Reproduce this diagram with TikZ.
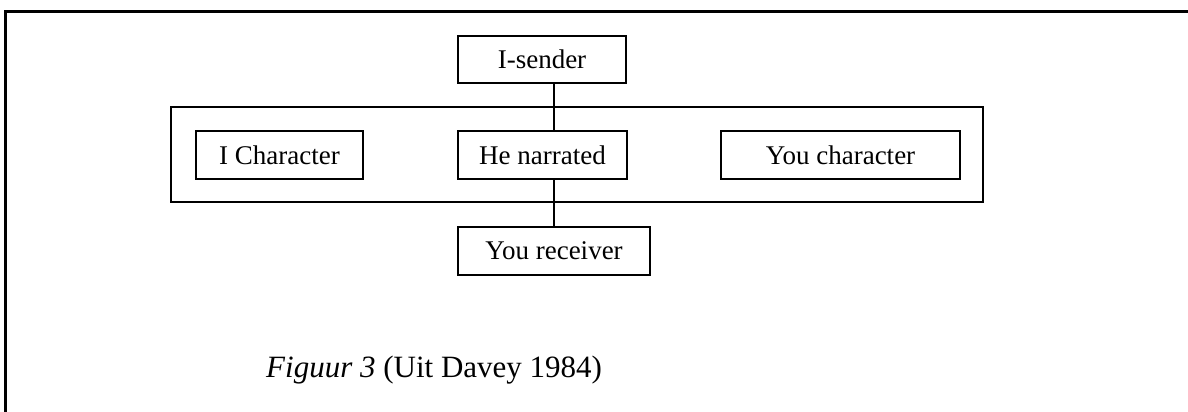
\documentclass[tikz,border=0pt]{standalone}
\usepackage{fontspec}
\setmainfont{Liberation Serif}
\begin{document}
\begin{tikzpicture}[x=1pt,y=-1pt,
  lbl/.style={draw=black,line width=1.8pt,rectangle,inner sep=0pt,
    font=\fontsize{27}{30}\selectfont},
  conn/.style={draw=black,line width=1.8pt}]
\useasboundingbox (0,0) rectangle (1188,412);
% outer frame (left and top edges only)
\coordinate (fbl) at (5.5,412);
\coordinate (ftl) at (5.5,11.5);
\coordinate (ftr) at (1188,11.5);
\draw[line width=2.2pt] (fbl) -- (ftl) -- (ftr);
% group box
\node[lbl,minimum width=812,minimum height=95] (group) at (577,154.5) {};
\node[lbl,minimum width=168,minimum height=47] (isender) at (542,59.5) {I-sender};
\node[lbl,minimum width=167,minimum height=48] (ichar) at (279.5,155) {I Character};
\node[lbl,minimum width=169,minimum height=48] (henarr) at (542.5,155) {He narrated};
\node[lbl,minimum width=239,minimum height=48] (youchar) at (840.5,155) {You character};
\node[lbl,minimum width=192,minimum height=48] (yourec) at (554,251) {You receiver};
% connectors
\draw[conn] (isender.south -| yourec.north) -- (henarr.north -| yourec.north);
\draw[conn] (henarr.south -| yourec.north) -- (yourec.north);
% caption
\node[anchor=base west,inner sep=0pt,font=\fontsize{31}{35}\selectfont] (caption) at (266,377)
  {\textit{Figuur 3} (Uit Davey 1984)};
\end{tikzpicture}
\end{document}
